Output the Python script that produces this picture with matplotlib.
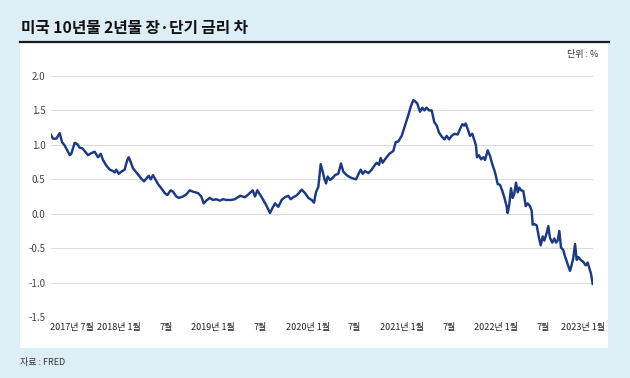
import numpy as np
import matplotlib
matplotlib.use('Agg')
import matplotlib.pyplot as plt
import matplotlib.transforms as mtransforms
from matplotlib.patches import Rectangle
from matplotlib.lines import Line2D

plt.rcParams['font.family'] = ['Noto Sans CJK KR', 'DejaVu Sans']

# months since 2017-07 and 10Y-2Y spread in %
months = [
    -2.71, -2.42, -2.00, -1.57, -1.27, -0.93, -0.60, -0.29, -0.09, 0.34, 0.68, 0.98,
    1.31, 1.62, 2.04, 2.46, 2.89, 3.31, 3.66, 3.95, 4.37, 4.80, 5.22, 5.44, 5.64,
    5.95, 6.28, 6.71, 7.01, 7.22, 7.48, 7.77, 8.06, 8.41, 8.83, 9.17, 9.46, 9.77,
    10.03, 10.32, 10.61, 10.96, 11.38, 11.81, 12.14, 12.57, 12.87, 13.29, 13.59,
    14.14, 14.56, 14.99, 15.41, 16.05, 16.47, 16.78, 17.11, 17.54, 17.96, 18.38,
    18.82, 19.24, 19.66, 20.29, 20.73, 21.15,
    21.40, 22.04, 22.46, 23.02, 23.31, 23.61, 24.04, 24.37, 24.80, 25.22, 25.57,
    25.86, 26.28, 26.71, 27.13, 27.55, 27.86, 28.19, 28.54, 28.83, 29.26, 29.68,
    30.10, 30.53, 30.83, 31.08, 31.38, 31.68, 31.94, 32.14, 32.36, 32.57, 32.87,
    33.21, 33.50, 33.92, 34.27, 34.56, 34.99, 35.41, 35.83, 36.18, 36.47, 36.78,
    37.03, 37.32, 37.75, 38.18, 38.47, 38.81, 39.11, 39.32, 39.57, 39.87, 40.42,
    40.93, 41.23, 41.57, 42.00, 42.42, 42.84, 43.14, 43.48, 43.73, 43.99, 44.33,
    44.63, 44.88, 45.18, 45.48, 45.82, 46.15, 46.46, 46.75, 47.10, 47.43, 47.73,
    48.03, 48.37, 48.70, 49.13, 49.43, 49.72, 49.98, 50.15, 50.41, 50.70, 50.99,
    51.25, 51.46, 51.59, 51.85, 52.10, 52.40, 52.61, 52.96, 53.25, 53.54, 53.89,
    54.23, 54.52, 54.82, 55.07, 55.38, 55.50, 55.71, 55.92, 56.14, 56.34, 56.56,
    56.78, 56.98, 57.20, 57.49, 57.80, 58.05, 58.34, 58.56, 58.69, 58.89, 59.20,
    59.49, 59.71, 59.96, 60.17, 60.47, 60.68, 60.89, 61.18, 61.44, 61.66, 61.87,
    62.08, 62.29, 62.59, 62.80, 63.02, 63.22, 63.44, 63.66, 63.86, 64.08, 64.29,
    64.50, 64.80, 65.13, 65.44, 65.69, 65.90, 66.11, 66.33,
]
spread = [
    1.15, 1.09, 1.09, 1.17, 1.04, 0.99, 0.92, 0.85, 0.87, 1.03, 1.01, 0.96,
    0.95, 0.91, 0.85, 0.88, 0.90, 0.82, 0.87, 0.78, 0.70, 0.64, 0.62, 0.60, 0.64,
    0.58, 0.61, 0.64, 0.77, 0.82, 0.75, 0.66, 0.62, 0.57, 0.51, 0.47, 0.51, 0.55,
    0.50, 0.56, 0.50, 0.43, 0.37, 0.30, 0.27, 0.34, 0.32, 0.25, 0.23,
    0.25, 0.28, 0.34, 0.32, 0.30, 0.25, 0.15, 0.19, 0.23, 0.20, 0.21,
    0.19, 0.21, 0.20, 0.20, 0.21, 0.24,
    0.26, 0.24, 0.28, 0.34, 0.25, 0.34, 0.26, 0.20, 0.11, 0.01, 0.09,
    0.15, 0.10, 0.20, 0.24, 0.26, 0.21, 0.24, 0.26, 0.29, 0.35, 0.30,
    0.23, 0.20, 0.16, 0.31, 0.39, 0.72, 0.61, 0.51, 0.44, 0.54, 0.49,
    0.52, 0.56, 0.58, 0.73, 0.61, 0.56, 0.53, 0.51, 0.50, 0.57, 0.64,
    0.58, 0.62, 0.59, 0.64, 0.69, 0.74, 0.71, 0.81, 0.74, 0.79, 0.87,
    0.91, 1.04, 1.05, 1.13, 1.28, 1.43, 1.55, 1.65, 1.63, 1.60, 1.48,
    1.54, 1.50, 1.54, 1.50, 1.50, 1.33, 1.28, 1.18, 1.12, 1.08, 1.13,
    1.08, 1.13, 1.16, 1.15, 1.23, 1.30, 1.28, 1.31, 1.23, 1.13, 1.16,
    1.07, 0.99, 0.82, 0.85, 0.79, 0.82, 0.78, 0.92, 0.84, 0.72, 0.60,
    0.43, 0.42, 0.33, 0.24, 0.10, 0.01, 0.14, 0.37, 0.23, 0.29, 0.45,
    0.31, 0.38, 0.34, 0.33, 0.11, 0.15, 0.11, 0.04, -0.16, -0.15, -0.17,
    -0.35, -0.46, -0.33, -0.39, -0.28, -0.18, -0.35, -0.42, -0.36, -0.42, -0.39,
    -0.25, -0.49, -0.53, -0.62, -0.69, -0.76, -0.83, -0.74, -0.64, -0.44, -0.67,
    -0.63, -0.67, -0.70, -0.75, -0.71, -0.79, -0.87, -1.02,
]

tick_months = [0, 6, 12, 18, 24, 30, 36, 42, 48, 54, 60, 66]
tick_labels = ['2017년 7월', '2018년 1월', '7월', '2019년 1월', '7월', '2020년 1월',
               '7월', '2021년 1월', '7월', '2022년 1월', '7월', '2023년 1월']
y_ticks = [-1.5, -1.0, -0.5, 0.0, 0.5, 1.0, 1.5, 2.0]

W, H = 630, 378
fig = plt.figure(figsize=(W / 100, H / 100), dpi=100)
fig.patch.set_facecolor('#ddeef6')

# white panel and black rule under the title
fig.patches.append(Rectangle((20 / W, 1 - 348 / H), 588 / W, 306 / H,
                             transform=fig.transFigure, facecolor='white',
                             edgecolor='none', zorder=-1))
fig.lines.append(Line2D([20 / W, 609 / W], [1 - 42 / H, 1 - 42 / H],
                        transform=fig.transFigure, color='#1a1a1a', linewidth=1.6))

fig.text(21 / W, 1 - 28 / H, '미국 10년물 2년물 장·단기 금리 차', fontsize=11.3,
         fontweight='black', color='#111111', va='center', ha='left')
fig.text(598 / W, 1 - 55 / H, '단위 : %', fontsize=6.5, color='#333333',
         va='center', ha='right')
fig.text(20 / W, 1 - 363 / H, '자료 : FRED', fontsize=6.5, color='#333333',
         va='center', ha='left')

ax = fig.add_axes([51 / W, 1 - 317 / H, 542 / W, 241 / H])
ax.set_facecolor('none')
ax.plot(months, spread, color='#1b3a82', linewidth=1.75, solid_joinstyle='round',
        zorder=3)

ax.set_xlim((51 - 72) / 7.85, (593 - 72) / 7.85)
ax.set_ylim(-1.5, 2.0)
ax.set_yticks(y_ticks)
ax.set_yticklabels([f'{v:.1f}' for v in y_ticks])
ax.set_xticks(tick_months)
ax.set_xticklabels(tick_labels)
ax.grid(axis='y', color='#dcdcdc', linewidth=0.8)
ax.grid(axis='x', visible=False)
ax.tick_params(axis='x', length=0, labelsize=6.5, labelcolor='#222222', pad=4)
ax.tick_params(axis='y', length=0, labelsize=7, labelcolor='#444444', pad=4)
for s in ax.spines.values():
    s.set_visible(False)

# nudge the last x label inside the panel
last = ax.get_xticklabels()[-1]
last.set_transform(last.get_transform() +
                   mtransforms.ScaledTranslation(-7 / 100, 0, fig.dpi_scale_trans))

fig.savefig('out.png', dpi=100, facecolor=fig.get_facecolor())
